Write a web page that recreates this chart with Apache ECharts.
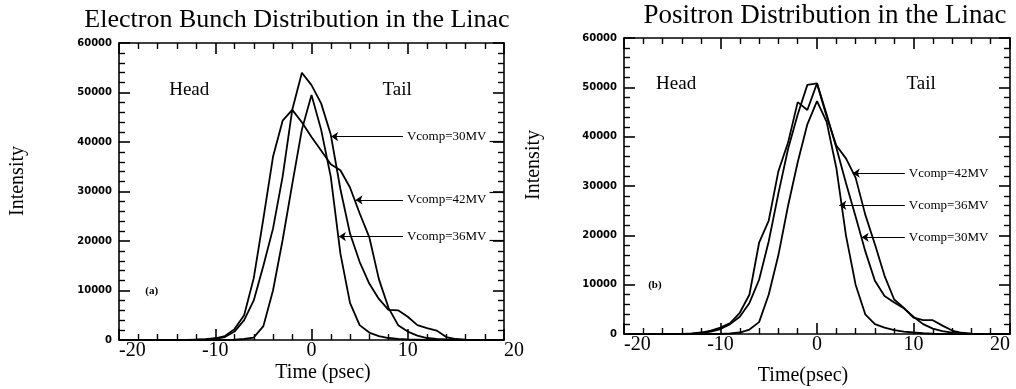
<!DOCTYPE html>
<html>
<head>
<meta charset="utf-8">
<script src="https://cdn.jsdelivr.net/npm/echarts@6/dist/echarts.min.js"></script>
<style>
html,body{margin:0;padding:0;background:#fff;}
#chart{width:1016px;height:389px;}
</style>
</head>
<body>
<div id="chart"></div>
<script>
// ---- data ----
const timePs = [-20,-19,-18,-17,-16,-15,-14,-13,-12,-11,-10,-9,-8,-7,-6,-5,-4,-3,-2,-1,0,1,2,3,4,5,6,7,8,9,10,11,12,13,14,15,16,17,18,19,20];

// (a) Electron bunch
const electron30 = [0,0,0,0,0,0,0,0,50, 100,250,600,1700,4000,8000,15000,22500,33000,46500,54000,
  51500,47800,41500,30500,21500,15800,11400,8300,6100,6000,4700,3000,2400,1900,600,200,50,0,0,0,0];
const electron42 = [0,0,0,0,0,0,0,0,50, 150,350,800,2200,5000,12500,24500,37000,44300,46500,44000,
  41000,38300,35500,34300,30800,25600,20800,12300,6500,3000,1700,900,400,200,100,0,0,0,0,0,0];
const electron36 = [0,0,0,0,0,0,0,0,0, 0,0,0,50,200,500,2800,10000,20200,31500,42500,
  49500,42500,33000,17500,7500,3000,1500,800,400,200,100,50,0,0,0,0,0,0,0,0,0];

// (b) Positron
const positron42 = [0,0,0,0,0,0,0,100,300, 700,1300,2200,4300,8000,18500,23000,33000,38800,47000,45400,
  50800,44100,38200,35600,31700,24200,18200,11800,7000,5300,3300,2800,2800,1700,700,250,80,0,0,0,0];
const positron30 = [0,0,0,0,0,0,0,0,200, 500,1000,2000,3500,6300,11000,18800,28500,37500,44500,50500,
  50800,44500,37800,30600,23800,16800,10800,7700,6400,5200,3500,2000,1100,600,300,100,0,0,0,0,0];
const positron36 = [0,0,0,0,0,0,0,0,0, 0,0,100,300,900,2400,8000,16000,26000,34800,42500,
  47200,43000,33700,20000,10000,4000,2000,1300,800,500,300,150,50,0,0,0,0,0,0,0,0];

// annotation anchors in data units [time, intensity]
const electronArrows = [
  {label:'Vcomp=30MV', from:[9.5,41100], to:[2.04,41100], under:40100},
  {label:'Vcomp=42MV', from:[9.5,28300], to:[4.57,28300], under:29800},
  {label:'Vcomp=36MV', from:[9.5,20900], to:[2.84,20900], under:20200}
];
const positronArrows = [
  {label:'Vcomp=42MV', from:[9.1,32600], to:[3.7,32600]},
  {label:'Vcomp=36MV', from:[9.1,26100], to:[2.31,26100]},
  {label:'Vcomp=30MV', from:[9.1,19600], to:[4.63,19600]}
];
const electronNotes = [{name:'Head', coord:[-12.7,50500]},{name:'Tail', coord:[8.9,50500]},{name:'(a)', coord:[-16.6,9900]}];
const positronNotes = [{name:'Head', coord:[-14.6,50700]},{name:'Tail', coord:[10.8,50700]},{name:'(b)', coord:[-16.8,9900]}];

// ---- chart ----
const SERIF = '"Liberation Serif","Times New Roman",serif';
const chart = echarts.init(document.getElementById('chart'), null, {renderer:'canvas'});

function xAx(grid, pos, labels, maxAlign){
  return {
    type:'value', gridIndex:grid, position:pos, min:-20, max:20, interval:10,
    axisLine:{show:true, onZero:false, lineStyle:{color:'#000', width:1.6}},
    axisTick:{show:true, inside:true, length:11, lineStyle:{color:'#000', width:1.6}},
    minorTick:{show:true, splitNumber:5, length:6, lineStyle:{color:'#000', width:1.4}},
    splitLine:{show:false}, minorSplitLine:{show:false},
    axisLabel:{show:labels, color:'#000', fontFamily:SERIF, fontSize:20, margin:1,
      alignMinLabel:'left', alignMaxLabel:maxAlign}
  };
}
function yAx(grid, pos, labels){
  return {
    type:'value', gridIndex:grid, position:pos, min:0, max:60000, interval:10000,
    axisLine:{show:true, onZero:false, lineStyle:{color:'#000', width:1.6}},
    axisTick:{show:true, inside:true, length:11, lineStyle:{color:'#000', width:1.6}},
    minorTick:{show:true, splitNumber:5, length:6, lineStyle:{color:'#000', width:1.4}},
    splitLine:{show:false}, minorSplitLine:{show:false},
    axisLabel:{show:labels, color:'#000', fontFamily:'"DejaVu Sans",sans-serif', fontWeight:'bold',
      fontSize:10, margin:7, formatter:v=>String(v)}
  };
}
function arrowLines(list){
  const data = [];
  list.forEach(a=>{
    data.push([
      {coord:a.from, symbol:'none', label:{show:true, position:'start', formatter:a.label, distance:4,
        color:'#000', fontFamily:SERIF, fontSize:13}},
      {coord:a.to, symbol:'arrow', symbolSize:7}
    ]);
    if(a.under!==undefined){
      data.push([
        {coord:[18.5,a.under], symbol:'none', label:{show:false}},
        {coord:[20,a.under], symbol:'none'}
      ]);
    }
  });
  return {silent:true, symbol:['none','arrow'], symbolSize:7, animation:false,
    lineStyle:{color:'#000', width:1.2, type:'solid'}, label:{show:false}, emphasis:{disabled:true}, data};
}
function notes(list){
  return {silent:true, symbol:'circle', symbolSize:1, itemStyle:{color:'rgba(0,0,0,0)'},
    label:{show:true, position:'inside', color:'#000', fontFamily:SERIF, fontSize:19,
      formatter:p=>p.name},
    data:list.map(n=>({name:n.name, coord:n.coord,
      label: n.name.startsWith('(') ? {fontSize:11, fontWeight:'bold'} : {}}))};
}
function mkSeries(name, arr, xi, yi, arrowItem, noteList){
  const s = {
    name, type:'line', xAxisIndex:xi, yAxisIndex:yi, symbol:'none', silent:true,
    data: timePs.map((t,i)=>[t, arr[i]]),
    lineStyle:{color:'#000', width:1.8}, itemStyle:{color:'#000'}
  };
  if(arrowItem) s.markLine = arrowLines([arrowItem]);
  if(noteList) s.markPoint = notes(noteList);
  return s;
}
function txt(x, y, text, size, rot){
  return {type:'text', x, y, rotation:rot||0, silent:true,
    style:{text, font:size+'px '+SERIF, fill:'#000', align:'center', verticalAlign:'middle',
      textAlign:'center', textVerticalAlign:'middle'}};
}

const option = {
  animation:false,
  backgroundColor:'#fff',
  grid:[
    {left:119, top:43, width:385, height:297},
    {left:624, top:38, width:386, height:296}
  ],
  xAxis:[ xAx(0,'bottom',true,'left'), xAx(0,'top',false,'left'),
          xAx(1,'bottom',true,'right'), xAx(1,'top',false,'right') ],
  yAxis:[ yAx(0,'left',true), yAx(0,'right',false),
          yAx(1,'left',true), yAx(1,'right',false) ],
  series:[
    mkSeries('Vcomp=30MV (electron)', electron30, 0, 0, electronArrows[0], electronNotes),
    mkSeries('Vcomp=42MV (electron)', electron42, 0, 0, electronArrows[1]),
    mkSeries('Vcomp=36MV (electron)', electron36, 0, 0, electronArrows[2]),
    mkSeries('Vcomp=42MV (positron)', positron42, 2, 2, positronArrows[0], positronNotes),
    mkSeries('Vcomp=36MV (positron)', positron36, 2, 2, positronArrows[1]),
    mkSeries('Vcomp=30MV (positron)', positron30, 2, 2, positronArrows[2])
  ],
  graphic:[
    txt(297, 20, 'Electron Bunch Distribution in the Linac', 26),
    txt(825, 16, 'Positron Distribution in the Linac', 27),
    txt(18, 181, 'Intensity', 20, Math.PI/2),
    txt(534, 165, 'Intensity', 20, Math.PI/2),
    txt(323, 373, 'Time (psec)', 20),
    txt(803, 376, 'Time(psec)', 20)
  ]
};
chart.setOption(option);
</script>
</body>
</html>
